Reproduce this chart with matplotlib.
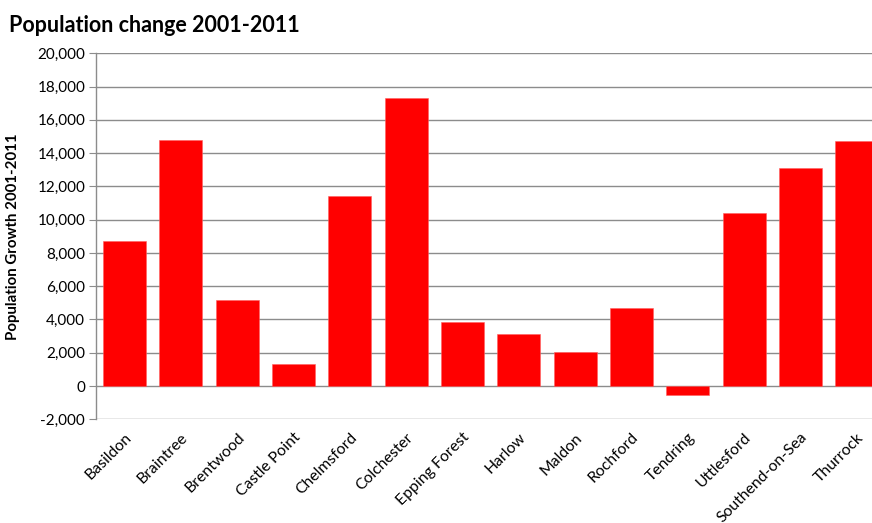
import matplotlib.pyplot as plt
from matplotlib.ticker import FuncFormatter

districts = ["Basildon", "Braintree", "Brentwood", "Castle Point", "Chelmsford",
             "Colchester", "Epping Forest", "Harlow", "Maldon", "Rochford",
             "Tendring", "Uttlesford", "Southend-on-Sea", "Thurrock"]
growth = [8700, 14800, 5150, 1350, 11400, 17300, 3850, 3100, 2050, 4700,
          -550, 10400, 13100, 14750]
y_ticks = list(range(-2000, 20001, 2000))

plt.rcParams['font.family'] = ['Lato', 'DejaVu Sans']

fig = plt.figure(figsize=(8.72, 5.23), dpi=100)
ax = fig.add_axes([0.1104, 0.1983, 0.9045, 0.6997])

x = range(len(districts))
ax.bar(x, growth, width=0.76, color="#ff0000", edgecolor="#ff6060", linewidth=0.4, zorder=3)

ax.set_xlim(-0.5, len(districts) - 0.5)
ax.set_ylim(-2000, 20000)
ax.set_yticks(y_ticks)
ax.yaxis.set_major_formatter(FuncFormatter(lambda v, p: f"{int(v):,}"))
ax.yaxis.grid(True, color="#8c8c8c", linewidth=1.0, zorder=0)
ax.set_axisbelow(True)

for side in ["top", "right", "bottom"]:
    ax.spines[side].set_visible(False)
ax.spines["left"].set_color("#8c8c8c")
ax.spines["left"].set_linewidth(1.0)

ax.tick_params(axis="y", length=5, color="#8c8c8c", labelsize=11, pad=3, labelcolor="#000000")
ax.tick_params(axis="x", length=0, pad=8)
ax.set_xticks(list(x))
ax.set_xticklabels(districts, rotation=45, ha="right", va="top",
                   rotation_mode="anchor", fontsize=11.3)

ax.set_ylabel("Population Growth 2001-2011", fontsize=10.8, fontweight="bold", labelpad=6)
ax.yaxis.set_label_coords(-0.097, 0.5)
fig.text(0.010, 0.938, "Population change 2001-2011", fontsize=15.5, fontweight="bold")

fig.savefig("out.png", dpi=100)
